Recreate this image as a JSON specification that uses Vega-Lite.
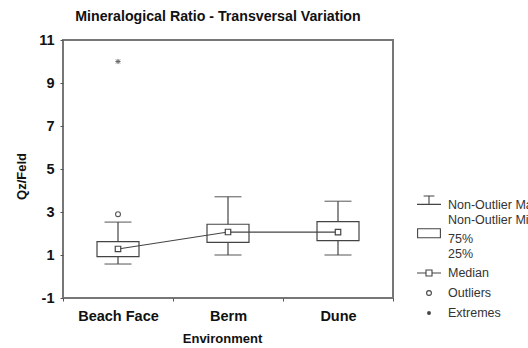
{
  "$schema": "https://vega.github.io/schema/vega-lite/v6.json",
  "width": 330,
  "height": 258,
  "autosize": {"type": "none"},
  "padding": {"left": 63, "top": 40, "right": 135, "bottom": 50},
  "background": "white",
  "title": {
    "text": "Mineralogical Ratio - Transversal Variation",
    "font": "Liberation Sans",
    "fontSize": 14.2,
    "fontWeight": "bold",
    "color": "#111",
    "anchor": "middle",
    "frame": "group",
    "dx": -10,
    "offset": 8
  },
  "config": {
    "view": {"stroke": "#777", "strokeWidth": 2},
    "axis": {
      "labelFont": "Liberation Sans",
      "labelFontWeight": "bold",
      "labelFontSize": 14.5,
      "labelColor": "#111",
      "titleFont": "Liberation Sans",
      "titleFontWeight": "bold",
      "titleFontSize": 13,
      "titleColor": "#111",
      "domain": false,
      "grid": false,
      "tickColor": "#555",
      "tickSize": 3
    }
  },
  "datasets": {
    "stats": [
      {"Environment": "Beach Face", "min": 0.58, "q1": 0.92, "median": 1.28, "q3": 1.62, "max": 2.53},
      {"Environment": "Berm", "min": 1.0, "q1": 1.59, "median": 2.07, "q3": 2.43, "max": 3.71},
      {"Environment": "Dune", "min": 1.0, "q1": 1.67, "median": 2.06, "q3": 2.55, "max": 3.5}
    ],
    "outliers": [
      {"Environment": "Beach Face", "value": 2.9, "kind": "Outliers"},
      {"Environment": "Beach Face", "value": 10.0, "kind": "Extremes"}
    ],
    "legend": [
      {"item": "Non-Outlier Max|Non-Outlier Min"},
      {"item": "75%|25%"},
      {"item": "Median"},
      {"item": "Outliers"},
      {"item": "Extremes"}
    ]
  },
  "encoding": {
    "x": {
      "field": "Environment",
      "type": "nominal",
      "sort": ["Beach Face", "Berm", "Dune"],
      "scale": {"paddingInner": 0, "paddingOuter": 0},
      "axis": {"labelAngle": 0, "labelPadding": 8, "titlePadding": 10, "tickBand": "extent", "titleX": 159}
    }
  },
  "layer": [
    {
      "data": {"name": "stats"},
      "mark": {"type": "rule", "color": "#444", "strokeWidth": 1.2},
      "encoding": {
        "y": {
          "field": "min",
          "type": "quantitative",
          "title": "Qz/Feld",
          "scale": {"domain": [-1, 11], "nice": false, "zero": false},
          "axis": {
            "values": [-1, 1, 3, 5, 7, 9, 11],
            "labelExpr": "replace(datum.label, '\u2212', '-')",
            "labelPadding": 6,
            "titlePadding": 10,
            "titleY": 136
          }
        },
        "y2": {"field": "max"}
      }
    },
    {
      "data": {"name": "stats"},
      "mark": {"type": "tick", "color": "#444", "size": 27, "thickness": 1.3},
      "encoding": {"y": {"field": "min", "type": "quantitative"}}
    },
    {
      "data": {"name": "stats"},
      "mark": {"type": "tick", "color": "#444", "size": 27, "thickness": 1.3},
      "encoding": {"y": {"field": "max", "type": "quantitative"}}
    },
    {
      "data": {"name": "stats"},
      "mark": {"type": "bar", "fill": "white", "stroke": "#444", "strokeWidth": 1.2, "width": 42},
      "encoding": {
        "y": {"field": "q1", "type": "quantitative"},
        "y2": {"field": "q3"}
      }
    },
    {
      "data": {"name": "stats"},
      "mark": {"type": "line", "color": "#444", "strokeWidth": 1.2},
      "encoding": {"y": {"field": "median", "type": "quantitative"}}
    },
    {
      "data": {"name": "stats"},
      "mark": {"type": "point", "shape": "square", "size": 30, "filled": true, "fill": "white", "stroke": "#444", "strokeWidth": 1.2, "opacity": 1},
      "encoding": {"y": {"field": "median", "type": "quantitative"}}
    },
    {
      "data": {"name": "outliers"},
      "transform": [{"filter": "datum.kind == 'Outliers'"}],
      "mark": {"type": "point", "shape": "circle", "size": 24, "filled": true, "fill": "white", "stroke": "#555", "strokeWidth": 1.1, "opacity": 1},
      "encoding": {"y": {"field": "value", "type": "quantitative"}}
    },
    {
      "data": {"name": "outliers"},
      "transform": [{"filter": "datum.kind == 'Extremes'"}],
      "mark": {"type": "point", "shape": "M-1,-1L1,1M-1,1L1,-1M0,-1.3V1.3M-1.3,0H1.3", "size": 16, "filled": false, "stroke": "#666", "strokeWidth": 1, "opacity": 1},
      "encoding": {"y": {"field": "value", "type": "quantitative"}}
    },
    {
      "data": {"name": "legend"},
      "mark": {"type": "point", "opacity": 0, "filled": false},
      "encoding": {
        "x": {"datum": "Beach Face", "type": "nominal"},
        "y": {"datum": 5, "type": "quantitative"},
        "shape": {
          "field": "item",
          "type": "nominal",
          "scale": {
            "domain": ["Non-Outlier Max|Non-Outlier Min", "75%|25%", "Median", "Outliers", "Extremes"],
            "range": [
              "M-0.45,-0.75H0.45M0,-0.75V-0.05M-1,-0.05H1",
              "M-0.95,-0.85H0.95V-0.1H-0.95Z",
              "M-1,0H-0.25M0.25,0H1M-0.25,-0.25H0.25V0.25H-0.25Z",
              "M0.2,0A0.2,0.2 0 1,1 -0.2,0A0.2,0.2 0 1,1 0.2,0Z",
              "M-0.12,-0.12L0.12,0.12M-0.12,0.12L0.12,-0.12M0,-0.17V0.17M-0.17,0H0.17"
            ]
          },
          "legend": {
            "title": null,
            "orient": "none",
            "legendX": 353,
            "legendY": 152,
            "padding": 0,
            "symbolSize": 576,
            "symbolOpacity": 1,
            "symbolFillColor": "white",
            "symbolStrokeColor": "#444",
            "symbolStrokeWidth": 1.1,
            "labelExpr": "split(datum.label, '|')",
            "labelFont": "Liberation Sans",
            "labelFontSize": 12.5,
            "labelColor": "#333",
            "labelLimit": 0,
            "labelOffset": 6,
            "rowPadding": -2,
            "encode": {"labels": {"update": {"lineHeight": {"value": 12.5}}}}
          }
        }
      }
    }
  ]
}
